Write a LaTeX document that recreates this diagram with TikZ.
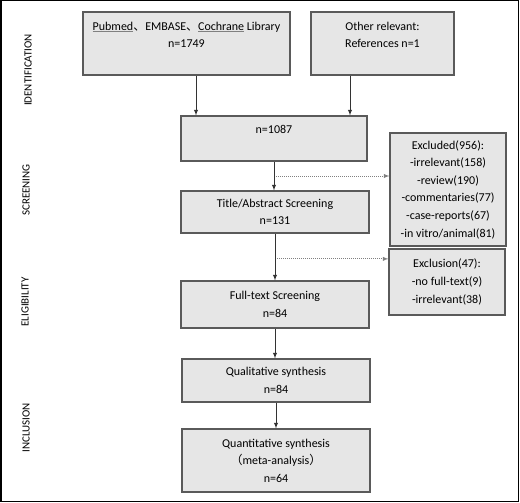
\documentclass[tikz,border=0pt]{standalone}
\usepackage{fontspec}
\setmainfont{Carlito}
\newfontfamily\cjk{Noto Sans CJK SC}
\definecolor{boxgray}{HTML}{E6E6E6}
\definecolor{edgegray}{HTML}{5A5A5A}
\newcommand{\dunhao}{{\cjk 、}}
\newcommand{\spellmark}[1]{{\color{gray}\underline{\color{black}#1}}}
\begin{document}
\begin{tikzpicture}[>=latex,x=1pt,y=-1pt,
	box/.style={draw=edgegray,fill=boxgray,line width=1.2pt,align=center,
		inner sep=0pt,font=\fontsize{12}{17.6}\selectfont},
	phase/.style={rotate=90,font=\fontsize{11}{13}\selectfont},
	flow/.style={->,line width=0.9pt,color=black!80},
	skip/.style={->,dash pattern=on 1pt off 1pt,line width=0.9pt,color=gray}]
\useasboundingbox (0,0) rectangle (520,503);
\draw[line width=1.5pt] (0.75,0.75) rectangle (518.25,501.25);
% phases
\node[phase] (idlab) at (28,70) {IDENTIFICATION};
\node[phase] (sclab) at (26,190) {SCREENING};
\node[phase] (ellab) at (25,302) {ELIGIBILITY};
\node[phase] (inlab) at (26,428) {INCLUSION};
% boxes
\node[box,minimum width=207,minimum height=63] (db) at (186.5,43.5)
	{\spellmark{Pubmed}\dunhao EMBASE\dunhao\spellmark{Cochrane} Library\\n=1749\\~};
\node[box,minimum width=143,minimum height=63] (other) at (382.5,43.5)
	{Other relevant:\\References n=1\\~};
\node[box,minimum width=186,minimum height=45] (pool) at (274,138.5)
	{n=1087\\~};
\node[box,minimum width=116,minimum height=113] (excl) at (448,189.5)
	{Excluded(956):\\-irrelevant(158)\\-review(190)\\-commentaries(77)\\-case-reports(67)\\-in vitro/animal(81)};
\node[box,minimum width=188,minimum height=42] (title) at (275,212)
	{Title/Abstract Screening\\n=131};
\node[box,minimum width=116,minimum height=66] (exft) at (447,282)
	{Exclusion(47):\\-no full-text(9)\\-irrelevant(38)};
\node[box,minimum width=188,minimum height=47] (full) at (275,304.5)
	{Full-text Screening\\n=84};
\node[box,minimum width=188,minimum height=43] (qual) at (276,380.5)
	{Qualitative synthesis\\n=84};
\node[box,minimum width=188,minimum height=63] (quant) at (276,460.5)
	{Quantitative synthesis\\{\cjk （}meta-analysis{\cjk ）}\\n=64};
% connectors
\draw[flow] ([xshift=9.5]db.south) -- ([xshift=9.5]db.south |- pool.north);
\draw[flow] ([xshift=-32.5]other.south) -- ([xshift=-32.5]other.south |- pool.north);
\draw[flow] (pool.south) -- coordinate[pos=0.5] (cut1) (pool.south |- title.north);
\draw[flow] (title.south) -- coordinate[pos=0.54] (cut2) (title.south |- full.north);
\draw[flow] (full.south) -- (full.south |- qual.north);
\draw[flow] (qual.south) -- (quant.north);
\draw[skip] ([xshift=2]cut1) -- (cut1 -| excl.west);
\draw[skip] ([xshift=2]cut2) -- (cut2 -| exft.west);
\end{tikzpicture}
\end{document}
